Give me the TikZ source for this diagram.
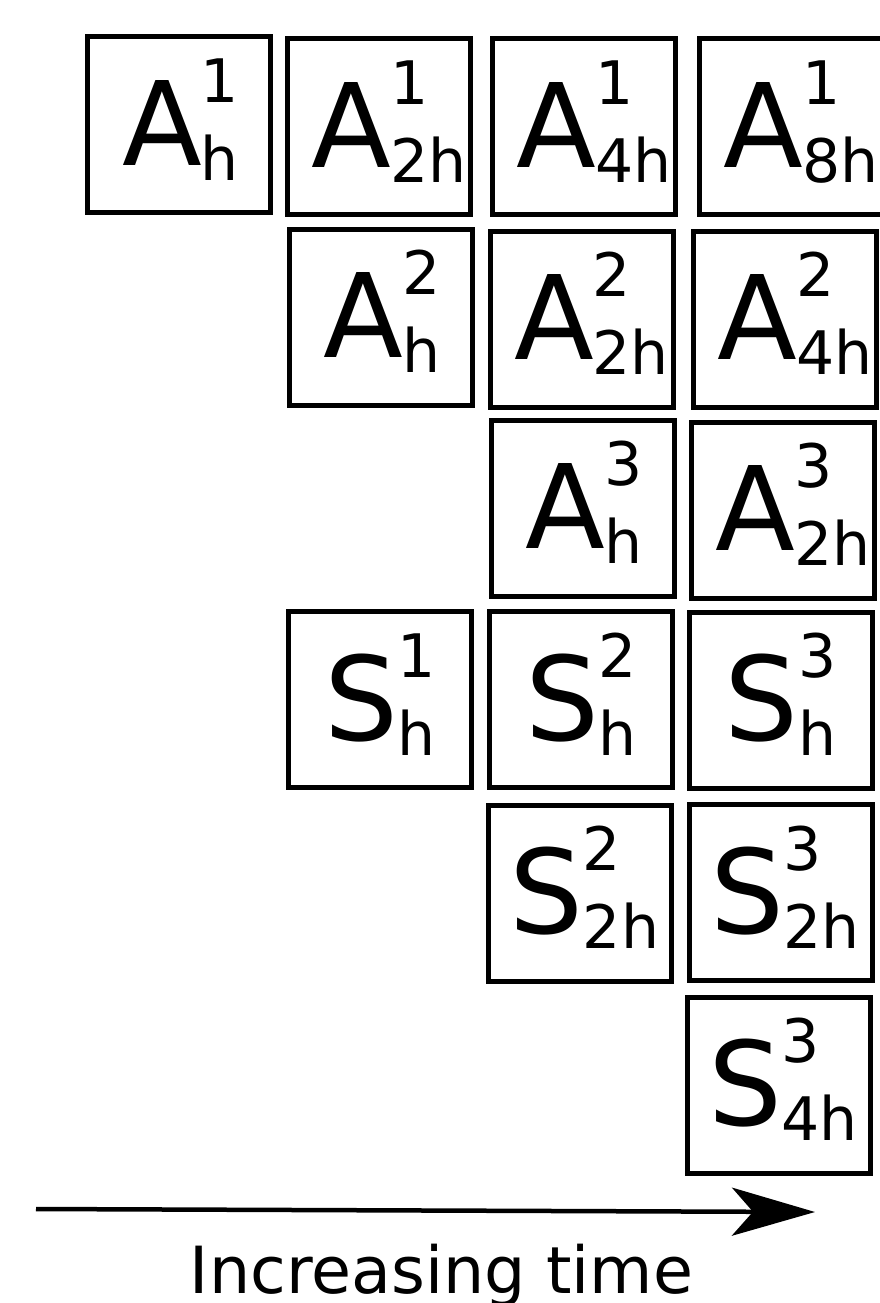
\documentclass[tikz,border=0pt]{standalone}
\usepackage{fontspec}
\setmainfont{DejaVu Sans}
\usetikzlibrary{arrows.meta}

\newcommand{\bigfont}{\fontsize{116.6}{130}\selectfont}
\newcommand{\smallfont}{\fontsize{60}{70}\selectfont}
% letter, superscript, subscript; optional nudge to the right
\newcommand{\tile}[4][0pt]{\hspace*{#1}{\bigfont #2}\kern-1pt\rlap{\raisebox{63pt}{\smallfont #3}}\raisebox{-15pt}{\smallfont #4}}

\tikzset{
  tilebox/.style={
    draw, line width=5pt, inner sep=0pt,
    text width=183pt, align=center,
    text height=128.5pt, text depth=47.5pt,
  },
  timearrow/.style={-{Stealth[length=83pt, width=48pt, inset=21pt]}, line width=4.5pt},
  timelabel/.style={font=\fontsize{65}{75}\selectfont, anchor=base},
}

\begin{document}
\begin{tikzpicture}[x=1pt, y=-1pt]
  \useasboundingbox (0,0) rectangle (879,1303);

  % analysis tiles
  \node[tilebox] (a1h)  at (179,124.5) {\tile[3pt]{A}{1}{h}};
  \node[tilebox] (a1h2) at (379.3,126.7) {\tile[20pt]{A}{1}{2h}};
  \node[tilebox] (a1h4) at (584,126.7) {\tile[20pt]{A}{1}{4h}};
  \node[tilebox] (a1h8) at (791,126.7) {\tile[20pt]{A}{1}{8h}};

  \node[tilebox] (a2h)  at (380.5,317) {\tile[3pt]{A}{2}{h}};
  \node[tilebox] (a2h2) at (581.5,319) {\tile[20pt]{A}{2}{2h}};
  \node[tilebox] (a2h4) at (785,319) {\tile[20pt]{A}{2}{4h}};

  \node[tilebox] (a3h)  at (582.5,508.3) {\tile[3pt]{A}{3}{h}};
  \node[tilebox] (a3h2) at (783.3,510) {\tile[20pt]{A}{3}{2h}};

  % synthesis tiles
  \node[tilebox] (s1h)  at (379.7,699.7) {\tile{S}{1}{h}};
  \node[tilebox] (s2h)  at (580.8,699.7) {\tile{S}{2}{h}};
  \node[tilebox] (s3h)  at (780.5,700) {\tile{S}{3}{h}};

  \node[tilebox] (s2h2) at (580,893.3) {\tile[9pt]{S}{2}{2h}};
  \node[tilebox] (s3h2) at (780.5,892.7) {\tile[9pt]{S}{3}{2h}};

  \node[tilebox] (s3h4) at (778.8,1085) {\tile[9pt]{S}{3}{4h}};

  % time axis
  \coordinate (tstart) at (36,1209);
  \coordinate (tend) at (815,1212);
  \draw[timearrow] (tstart) -- (tend);
  \node[timelabel] (tlabel) at (441.5,1293) {Increasing time};

\end{tikzpicture}
\end{document}
